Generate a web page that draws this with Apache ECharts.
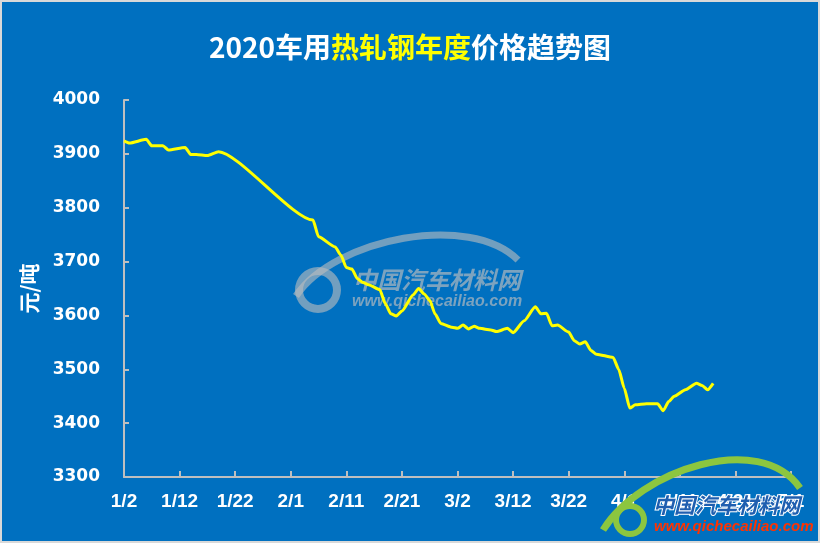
<!DOCTYPE html>
<html><head><meta charset="utf-8">
<script src="https://cdn.jsdelivr.net/npm/echarts@6/dist/echarts.min.js"></script>
<style>html,body{margin:0;padding:0;background:#fff}#c{width:820px;height:543px}</style>
</head><body><div id="c"></div>
<script>
const titleParts = ['2020车用', '热轧钢年度', '价格趋势图'];
const yAxisName = '元/吨';
const yTicks = [3300, 3400, 3500, 3600, 3700, 3800, 3900, 4000];
const xTickLabels = ['1/2','1/12','1/22','2/1','2/11','2/21','3/2','3/12','3/22','4/1','4/11','4/21','5/1'];
const dates = ['1/2','1/3','1/6','1/7','1/9','1/10','1/13','1/14','1/15','1/17','1/19',
  '2/5','2/6','2/9','2/10','2/11','2/12','2/13','2/14','2/15',
  '2/17','2/18','2/19','2/20','2/21',
  '2/23','2/24','2/25','2/26','2/27','2/28',
  '3/1','3/2','3/3','3/4','3/5','3/6',
  '3/8','3/9','3/11','3/12',
  '3/14','3/16','3/17','3/18','3/19','3/20',
  '3/22','3/23','3/24','3/25','3/26','3/27',
  '3/30','3/31','4/1','4/2','4/3',
  '4/5','4/7','4/8','4/9','4/10',
  '4/12','4/14','4/15','4/16','4/17'];
const prices = [3924,3920,3927,3915,3915,3907,3912,3899,3899,3897,3904,
  3777,3746,3727,3712,3689,3686,3668,3661,3657,
  3648,3622,3603,3599,3608,
  3638,3650,3640,3628,3602,3585,
  3578,3576,3582,3575,3580,3576,
  3573,3570,3576,3568,
  3590,3616,3603,3604,3581,3582,
  3569,3553,3547,3551,3535,3528,
  3522,3500,3465,3428,3434,
  3436,3436,3423,3440,3450,
  3462,3474,3470,3462,3474];
const watermarkName = '中国汽车材料网';
const watermarkUrl = 'www.qichecailiao.com';

const base = Date.UTC(2020, 0, 2);
function dayOffset(s) { const p = s.split('/'); return (Date.UTC(2020, +p[0]-1, +p[1]) - base) / 86400000; }
const seriesData = dates.map((d, i) => [dayOffset(d), prices[i]]);
const xTicksOffsets = xTickLabels.map(dayOffset);

const chart = echarts.init(document.getElementById('c'));
const axisGray = '#BFBFBF';
chart.setOption({
  backgroundColor: '#0070C0',
  animation: false,
  title: {
    text: '{w|' + titleParts[0] + '}{y|' + titleParts[1] + '}{w|' + titleParts[2] + '}',
    left: 'center', top: 28,
    textStyle: {
      rich: {
        w: { color: '#fff', fontSize: 28, fontWeight: 'bold', fontFamily: 'Noto Sans CJK SC' },
        y: { color: '#FFFF00', fontSize: 28, fontWeight: 'bold', fontFamily: 'Noto Sans CJK SC' }
      }
    }
  },
  grid: { left: 124, right: 29, top: 100, bottom: 66, containLabel: false },
  xAxis: {
    type: 'value', min: 0, max: 120, interval: 10,
    axisLine: { show: true, lineStyle: { color: axisGray, width: 2 } },
    axisTick: { show: true, inside: true, length: 6, lineStyle: { color: axisGray, width: 2 } },
    splitLine: { show: false },
    axisLabel: {
      color: '#fff', fontSize: 19, fontWeight: 'bold', fontFamily: 'Liberation Sans', margin: 15,
      formatter: v => { const i = xTicksOffsets.indexOf(v); return i >= 0 ? xTickLabels[i] : ''; }
    }
  },
  yAxis: {
    type: 'value', min: yTicks[0], max: yTicks[yTicks.length-1], interval: 100,
    name: yAxisName, nameLocation: 'middle', nameGap: 84, nameRotate: 90,
    nameTextStyle: { color: '#fff', fontSize: 21, fontWeight: 'bold', fontFamily: 'Noto Sans CJK SC' },
    axisLine: { show: true, lineStyle: { color: axisGray, width: 2 } },
    axisTick: { show: true, inside: true, length: 5, lineStyle: { color: axisGray, width: 2 } },
    splitLine: { show: false },
    axisLabel: { color: '#fff', fontSize: 17, fontWeight: 'bold', fontFamily: 'DejaVu Sans', margin: 24,
      formatter: v => String(v) }
  },
  series: [{
    type: 'line', data: seriesData, showSymbol: false, smooth: 0.2, smoothMonotone: 'x',
    lineStyle: { color: '#FFFF00', width: 3 }, z: 5
  }],
  graphic: [
    { type: 'rect', shape: { x: 1, y: 1, width: 818, height: 541 }, style: { fill: 'none', stroke: '#D9D9D9', lineWidth: 2 }, z: 100 },
    // centre watermark
    { type: 'bezierCurve', shape: { x1: 296, y1: 296, x2: 518, y2: 260, cpx1: 335, cpy1: 238, cpx2: 470, cpy2: 212 },
      style: { stroke: 'rgba(190,190,190,0.6)', lineWidth: 7, fill: 'none' }, z: 1 },
    { type: 'ring', shape: { cx: 318, cy: 290, r: 23, r0: 15 }, style: { fill: 'rgba(190,190,190,0.6)' }, z: 1 },
    { type: 'text', left: 353, top: 268, style: { text: watermarkName, fill: 'rgba(190,190,190,0.65)', font: 'italic bold 24px "Noto Sans CJK SC"' }, z: 1 },
    { type: 'text', left: 352, top: 294, style: { text: watermarkUrl, fill: 'rgba(190,190,190,0.65)', font: 'italic bold 16px "Liberation Sans"' }, z: 1 },
    // bottom-right logo
    { type: 'bezierCurve', shape: { x1: 603, y1: 530, x2: 800, y2: 488, cpx1: 640, cpy1: 470, cpx2: 760, cpy2: 430 },
      style: { stroke: '#8CC63F', lineWidth: 7, fill: 'none' }, z: 10 },
    { type: 'ring', shape: { cx: 630, cy: 520, r: 17, r0: 11 }, style: { fill: '#8CC63F' }, z: 10 },
    { type: 'text', left: 652, top: 494, style: { text: watermarkName, fill: '#1F5FB0', stroke: '#fff', lineWidth: 2, font: 'italic bold 21px "Noto Sans CJK SC"' }, z: 11 },
    { type: 'text', left: 654, top: 519, style: { text: watermarkUrl, fill: '#FF3300', font: 'italic bold 15px "Liberation Sans"' }, z: 11 }
  ]
});
</script></body></html>
